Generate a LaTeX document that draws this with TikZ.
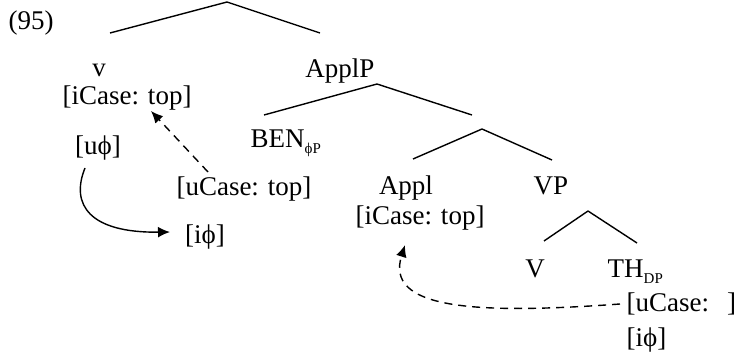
\documentclass[tikz,border=0pt]{standalone}
\usepackage{fontspec}
\setmainfont{Liberation Serif}
\usetikzlibrary{arrows.meta, positioning}
\newcommand{\ph}{\char"03D5}
\newcommand{\subsc}[1]{\raisebox{-0.45ex}{\fontsize{7.5}{9}\selectfont #1}}

\begin{document}
\begin{tikzpicture}[x=0.5pt, y=-0.5pt, line width=0.7pt,
    lab/.style={anchor=base, inner sep=0pt, font=\fontsize{13.5}{15}\selectfont},
    labw/.style={lab, anchor=base west},
    agree/.style={-{Latex[length=6pt, width=5.4pt]}},
    value/.style={agree, dashed, dash pattern=on 4pt off 3pt}]
    \useasboundingbox (0,0) rectangle (734,358);

    % labels
    \node[lab] (ex) at (31,30) {(95)};
    \node[lab] (v) at (99,77) {v};
    \node[lab] (vcase) at (127,105) {[iCase: top]};
    \node[lab] (vphi) at (98,155) {[u\ph]};
    \node[lab] (applp) at (340,78) {ApplP};
    \node[labw] (ben) at (250,148) {BEN\subsc{\ph P}};
    \node[lab] (bencase) at (244,196) {[uCase: top]};
    \node[lab] (benphi) at (205,243) {[i\ph]};
    \node[lab] (appl) at (406,195) {Appl};
    \node[lab] (applcase) at (420,225) {[iCase: top]};
    \node[lab] (vp) at (551,195) {VP};
    \node[lab] (V) at (535,278) {V};
    \node[labw] (th) at (607,278) {TH\subsc{DP}};
    \node[labw] (thcase) at (626,311) {[uCase:\hspace{9pt}]};
    \node[labw] (thphi) at (626,346) {[i\ph]};

    % branches
    \coordinate (top) at (227,2);
    \coordinate (topl) at (110,33);
    \coordinate (topr) at (320,33);
    \coordinate (aplp) at (377,84);
    \coordinate (aplpl) at (264,115);
    \coordinate (aplpr) at (472,115);
    \coordinate (aplb) at (482,129);
    \coordinate (aplbl) at (413,159);
    \coordinate (aplbr) at (552,160);
    \coordinate (vpb) at (588,211);
    \coordinate (vpbl) at (544,241);
    \coordinate (vpbr) at (637,243);
    \path[draw]
        (top) edge (topl) edge (topr)
        (aplp) edge (aplpl) edge (aplpr)
        (aplb) edge (aplbl) edge (aplbr)
        (vpb) edge (vpbl) edge (vpbr);

    % agreement arrows
    \coordinate (p1) at (208,172);
    \coordinate (q1) at (151,111);
    \draw[value] (p1) -- (q1);
    \coordinate (p2) at (85,168);
    \coordinate (q2) at (170,232);
    \draw[agree] (p2) .. controls (70,205) and (90,233) .. (q2);
    \coordinate (p3) at (620,304);
    \coordinate (q3) at (405,245);
    \draw[value] (p3) .. controls (470,315) and (385,308) .. (q3);
\end{tikzpicture}
\end{document}
